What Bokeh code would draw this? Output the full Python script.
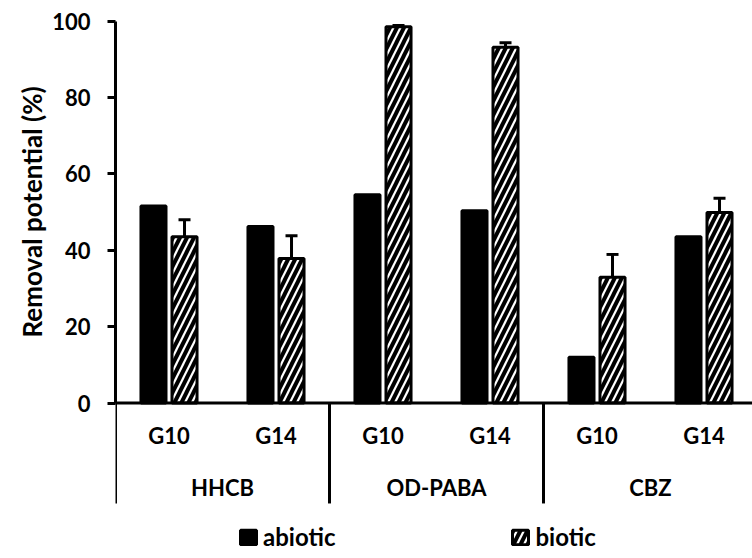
from bokeh.plotting import figure
from bokeh.models import (Range1d, FixedTicker, ColumnDataSource, Whisker, TeeHead,
                          Legend, LegendItem, Title)
from bokeh.core.properties import value
from bokeh.embed import file_html
from bokeh.resources import INLINE

# ---- data ----
compounds = ["HHCB", "OD-PABA", "CBZ"]
sites = ["G10", "G14"]
abiotic = [51.6, 46.2, 54.5, 50.3, 12.0, 43.5]
biotic = [43.5, 37.8, 98.5, 93.1, 32.9, 49.9]
biotic_err = [4.5, 6.0, 0.3, 1.2, 6.0, 3.7]
y_ticks = [0, 20, 40, 60, 80, 100]
series_names = ["abiotic", "biotic"]
y_title = "Removal potential (%)"

# ---- derived positions ----
n_sub = len(sites)
n = len(compounds) * n_sub
xc = [i + 0.5 for i in range(n)]
sub_labels = [s for c in compounds for s in sites]
group_centers = [n_sub * (j + 0.5) for j in range(len(compounds))]
boundaries = [n_sub * j for j in range(len(compounds) + 1)]

FONT = "Lato"
FS = "22px"
OFF = 0.145
BW = 0.234
PX = 107.0     # pixels per sub-category
PY = 3.82      # pixels per percent
LEFT = 115
ZERO_Y = 402.5
W, H = 752, 558

src = ColumnDataSource(dict(
    x_ab=[x - OFF for x in xc],
    x_bi=[x + OFF for x in xc],
    abiotic=abiotic,
    biotic=biotic,
    upper=[b + e for b, e in zip(biotic, biotic_err)],
    lower=[b - e for b, e in zip(biotic, biotic_err)],
))

p = figure(width=W, height=H, output_backend="svg", toolbar_location=None,
           x_range=Range1d(0, (W - LEFT) / PX),
           y_range=Range1d(-(H - ZERO_Y) / PY, ZERO_Y / PY),
           x_axis_location=None,
           min_border_left=LEFT, min_border_right=0, min_border_top=0, min_border_bottom=0)
p.grid.visible = False
p.outline_line_color = None
p.background_fill_color = "white"

ax = p.yaxis[0]
ax.bounds = (0, 100)
ax.ticker = FixedTicker(ticks=y_ticks)
ax.minor_tick_line_color = None
ax.major_tick_in = 0
ax.major_tick_out = 8
ax.major_tick_line_width = 3
ax.major_tick_line_color = "black"
ax.axis_line_width = 3
ax.axis_line_color = "black"
ax.major_label_text_font = FONT
ax.major_label_text_font_style = "bold"
ax.major_label_text_font_size = FS
ax.major_label_text_color = "black"
ax.major_label_standoff = 17

# y axis title, placed along the 0-100 span of the axis
p.add_layout(Title(text=y_title, align="left", offset=221, vertical_align="bottom",
                   standoff=4, text_font=FONT, text_font_style="bold",
                   text_font_size="26px", text_color="black"), "left")

r1 = p.vbar(x="x_ab", top="abiotic", bottom=0, width=BW, fill_color="black",
            line_color="black", line_width=3, source=src)
r2 = p.vbar(x="x_bi", top="biotic", bottom=0, width=BW, fill_color="white",
            line_color="black", line_width=3, hatch_pattern="/", hatch_color="black",
            hatch_weight=4, hatch_scale=14, source=src)

p.add_layout(Whisker(source=src, base="x_bi", upper="upper", lower="lower",
                     line_color="black", line_width=3,
                     upper_head=TeeHead(size=12, line_width=3, line_color="black"),
                     lower_head=TeeHead(size=12, line_width=3, line_color="black")))

# x axis line and group dividers
p.segment(x0=[boundaries[0]], x1=[boundaries[-1]], y0=[0], y1=[0],
          line_color="black", line_width=3)
p.segment(x0=boundaries, x1=boundaries, y0=[0] * len(boundaries),
          y1=[-26.3] * len(boundaries), line_color="black", line_width=3)

p.text(x=xc, y=[-8.6] * n, text=sub_labels, text_font=value(FONT),
       text_font_style="bold", text_font_size=FS, text_color="black",
       text_align="center", text_baseline="middle")
p.text(x=group_centers, y=[-22.0] * len(group_centers), text=compounds,
       text_font=value(FONT), text_font_style="bold", text_font_size=FS,
       text_color="black", text_align="center", text_baseline="middle")

legend = Legend(items=[LegendItem(label=series_names[0], renderers=[r1]),
                       LegendItem(label=series_names[1], renderers=[r2])],
                orientation="horizontal", location=(123, 7),
                glyph_width=20, glyph_height=18, label_standoff=5, spacing=175,
                padding=0, margin=0, border_line_color=None, background_fill_alpha=0,
                label_text_font=FONT, label_text_font_style="bold",
                label_text_font_size="24px", label_text_color="black")
p.add_layout(legend, "center")

open("out.html", "w").write(file_html(p, INLINE))
